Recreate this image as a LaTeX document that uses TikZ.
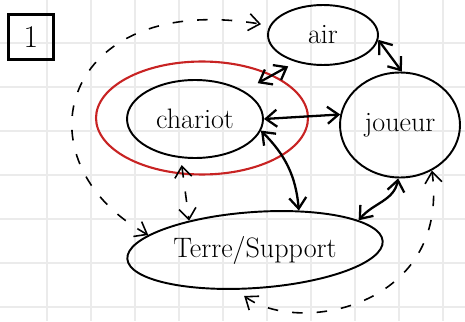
\documentclass[tikz,border=0pt]{standalone}
\usepackage{tikz}
\usetikzlibrary{shapes.geometric, positioning, arrows.meta}
\definecolor{penred}{RGB}{200,35,35}

\begin{document}
\begin{tikzpicture}[x=0.02cm, y=0.02cm,
        ovalnode/.style={ellipse, draw=black, line width=1.1pt, inner sep=0pt},
        systemnode/.style={ellipse, draw=penred, line width=1.2pt, inner sep=0pt},
        gridline/.style={draw=black!8, line width=0.8pt},
        dashlink/.style={<->, line width=0.9pt, dash pattern=on 6pt off 8pt},
        >={Straight Barb[length=2.2mm,width=3.4mm]}, line width=1.3pt]
        \tikzstyle{every node}=[font=\fontsize{16}{18}\selectfont]
            \useasboundingbox (0,0) rectangle (465,321);
            % squared paper
            \foreach \gx in {47,91,...,443}
                \draw[gridline] (\gx,0) -- (\gx,321);
            \foreach \gy in {14,58,...,278}
                \draw[gridline] (0,\gy) -- (465,\gy);

            \node[draw, line width=1.2pt, minimum size=0.9cm, inner sep=0pt,
                font=\fontsize{18}{20}\selectfont] (numero) at (31,284) {1};
            \node[ovalnode, minimum width=2.2cm, minimum height=1.2cm] (air) at (323,286) {air};
            \node[ovalnode, minimum width=2.4cm, minimum height=2.1cm] (joueur) at (400,196) {joueur};
            \node[ovalnode, minimum width=2.72cm, minimum height=1.56cm] (chariot) at (195,202) {chariot};
            \node[systemnode, minimum width=4.24cm, minimum height=2.26cm] (systeme) at (202,203) {};
            \node[ovalnode, rotate=4, minimum width=5.12cm, minimum height=1.52cm] (terre) at (255,71)
                {\rotatebox{-4}{Terre/Support}};

            \draw[<->, shorten <=9pt, shorten >=5pt] (chariot.30) -- (air.225);
            \draw[<->] (air.-5) -- (joueur.88);
            \draw[<->] (chariot.east) -- (joueur.170);
            \draw[<->] (chariot.-10) to[out=-45, in=95] (terre.38);
            \draw[<->] (joueur.-92) to[out=-100, in=50] (terre.12);
            \draw[dashlink, shorten <=4pt] (chariot.-110) -- (terre.152);
            % external loops
            \draw[dashlink, shorten >=5pt] (terre.168) .. controls (15,160) and (60,330) .. (air.170);
            \draw[dashlink, shorten <=6pt] (terre.-120) .. controls (300,-15) and (450,15) .. (joueur.-55);
        \end{tikzpicture}
\end{document}
